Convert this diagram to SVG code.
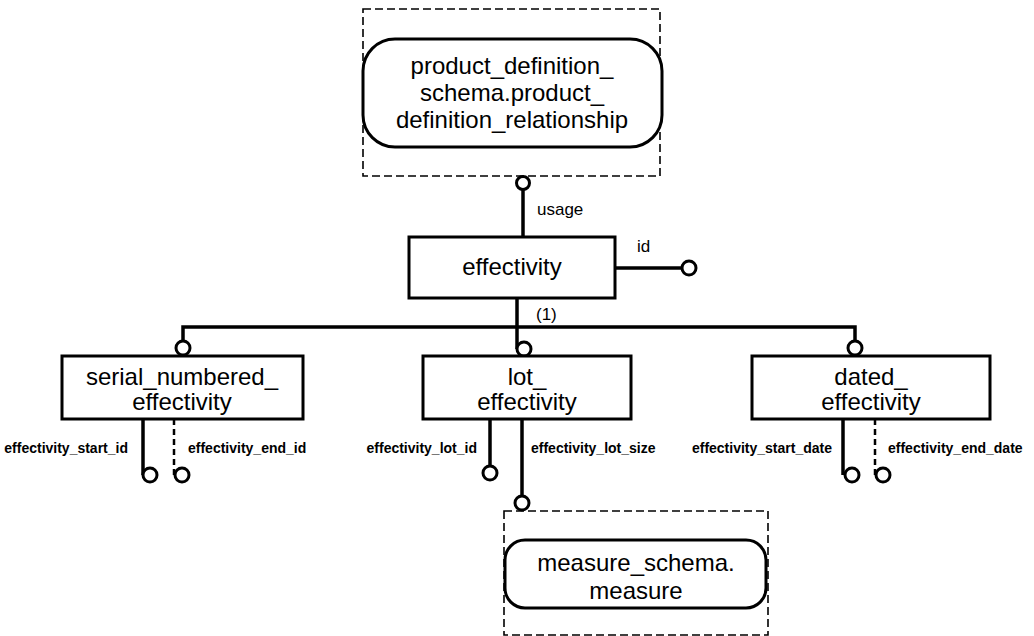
<svg xmlns="http://www.w3.org/2000/svg" width="1034" height="636" viewBox="0 0 1034 636">
<style>
.box{fill:#fff;stroke:#000;stroke-width:3}
.dash{fill:none;stroke:#000;stroke-width:1.6;stroke-dasharray:8 4}
.ln{fill:none;stroke:#000;stroke-width:3.5}
.dl{fill:none;stroke:#000;stroke-width:2.5;stroke-dasharray:6 4}
.c{fill:#fff;stroke:#000;stroke-width:3}
.t{font-family:"Liberation Sans",Arial,sans-serif;font-size:24px;text-anchor:middle;fill:#000}
.l{font-family:"Liberation Sans",Arial,sans-serif;font-size:17px;fill:#000}
.a{font-family:"Liberation Sans",Arial,sans-serif;font-size:14px;font-weight:bold;fill:#000}
</style>
<rect width="1034" height="636" fill="#fff"/>
<g id="connectors">
<line class="ln" x1="523" y1="190" x2="523" y2="237"/>
<line class="ln" x1="615" y1="268" x2="682" y2="268"/>
<line class="ln" x1="517" y1="298" x2="517" y2="349"/>
<polyline class="ln" points="183,341 183,327 855,327 855,341"/>
<line class="ln" x1="143" y1="419" x2="143" y2="475"/>
<line class="dl" x1="174" y1="419" x2="174" y2="475"/>
<line class="ln" x1="490" y1="419" x2="490" y2="466"/>
<line class="ln" x1="522" y1="419" x2="522" y2="496"/>
<line class="ln" x1="843" y1="419" x2="843" y2="475"/>
<line class="dl" x1="875" y1="419" x2="875" y2="475"/>
<circle class="c" cx="523" cy="183" r="6.5"/>
<circle class="c" cx="689" cy="268" r="7"/>
<circle class="c" cx="183" cy="348" r="7"/>
<circle class="c" cx="524" cy="349" r="7"/>
<circle class="c" cx="855" cy="348" r="7"/>
<circle class="c" cx="150" cy="475" r="7"/>
<circle class="c" cx="182" cy="475" r="7"/>
<circle class="c" cx="490" cy="473" r="7"/>
<circle class="c" cx="522" cy="503" r="7"/>
<circle class="c" cx="852" cy="475" r="7"/>
<circle class="c" cx="883" cy="475" r="7"/>
<text class="l" x="537" y="215">usage</text>
<text class="l" x="637" y="252">id</text>
<text class="l" x="536" y="320">(1)</text>
<text class="a" x="128" y="453" text-anchor="end">effectivity_start_id</text>
<text class="a" x="188" y="453">effectivity_end_id</text>
<text class="a" x="477" y="453" text-anchor="end">effectivity_lot_id</text>
<text class="a" x="531" y="453">effectivity_lot_size</text>
<text class="a" x="832" y="453" text-anchor="end">effectivity_start_date</text>
<text class="a" x="888" y="453">effectivity_end_date</text>
</g>
<g id="product_definition_relationship">
<rect class="dash" x="363" y="9" width="297" height="167"/>
<rect class="box" x="363" y="39" width="299" height="108" rx="32"/>
<text class="t" x="512" y="74">product_definition_</text>
<text class="t" x="512" y="101">schema.product_</text>
<text class="t" x="512" y="128">definition_relationship</text>
</g>
<g id="effectivity">
<rect class="box" x="409" y="237" width="206" height="61"/>
<text class="t" x="512" y="275">effectivity</text>
</g>
<g id="serial_numbered_effectivity">
<rect class="box" x="62" y="356" width="241" height="63"/>
<text class="t" x="182" y="385">serial_numbered_</text>
<text class="t" x="182" y="410">effectivity</text>
</g>
<g id="lot_effectivity">
<rect class="box" x="423" y="356" width="208" height="63"/>
<text class="t" x="527" y="385">lot_</text>
<text class="t" x="527" y="410">effectivity</text>
</g>
<g id="dated_effectivity">
<rect class="box" x="752" y="356" width="238" height="63"/>
<text class="t" x="871" y="385">dated_</text>
<text class="t" x="871" y="410">effectivity</text>
</g>
<g id="measure">
<rect class="dash" x="504" y="511" width="264" height="124"/>
<rect class="box" x="505" y="540" width="261" height="68" rx="20"/>
<text class="t" x="636" y="571">measure_schema.</text>
<text class="t" x="636" y="599">measure</text>
</g>
</svg>
